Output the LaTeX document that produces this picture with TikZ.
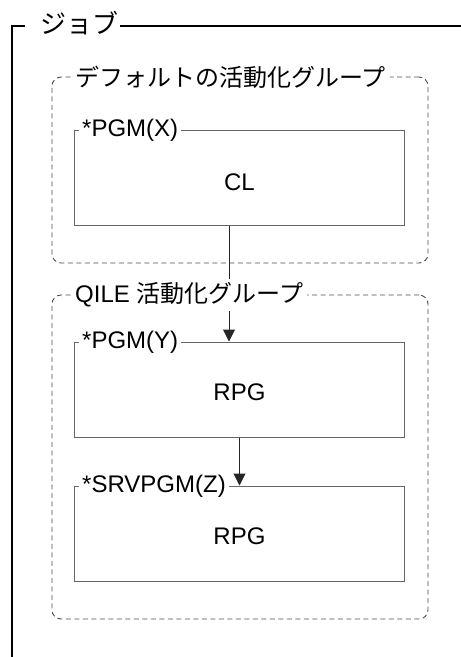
\documentclass[tikz,border=0pt]{standalone}
\usepackage{fontspec}
\setmainfont{Liberation Sans}
\newfontfamily\jp{Noto Sans CJK JP}
\usetikzlibrary{arrows.meta}
\begin{document}
\begin{tikzpicture}[x=1pt,y=-1pt,
  font=\fontsize{24}{28}\selectfont,
  grp/.style={draw=black!70, dash pattern=on 5pt off 3.5pt, line width=0.9pt, rounded corners=9pt, minimum width=376pt, inner sep=0pt},
  pbox/.style={draw=black!60, line width=1pt, minimum width=330pt, minimum height=95pt, inner sep=0pt},
  lbl/.style={fill=white, inner sep=3pt, anchor=west},
  arr/.style={draw=black!85, line width=1pt, -{Triangle[width=12pt,length=12pt]}},
  frame/.style={draw=black, line width=2pt},
]
\useasboundingbox (0,0) rectangle (461,657);
% job frame
\node[lbl, inner sep=2pt, font=\fontsize{26}{30}\selectfont] (job) at (38,23) {\jp ジョブ};
\coordinate (jobtl) at (12,26);
\coordinate (jobbl) at (12,660);
\coordinate (jobtr) at (462,26);
\coordinate (jobtick) at (25,26);
\draw[frame] (jobbl) -- (jobtl) -- (jobtick);
\draw[draw=black, line width=1.6pt] (job.east |- jobtr) -- (jobtr);
% groups
\node[grp, minimum height=186pt] (dflt) at (240,170) {};
\node[grp, minimum height=324pt] (qile) at (240,457) {};
% program boxes
\node[pbox] (pgmx) at (239.5,177.5) {};
\node[pbox] (pgmy) at (239.5,389.5) {};
\node[pbox] (srv) at (239.5,533.5) {};
\node (cl) at (239.5,182) {CL};
\node (rpg1) at (239.5,392) {RPG};
\node (rpg2) at (239.5,536) {RPG};
% connectors
\draw[arr] ([xshift=-10.5pt]pgmx.south) -- ([xshift=-10.5pt]pgmy.north);
\draw[arr] (pgmy.south) -- (srv.north);
% labels
\node[lbl, inner sep=4pt] (dlbl) at (71,77) {\jp デフォルトの活動化グループ};
\node[lbl, inner sep=4pt] (qlbl) at (71,295) {QILE {\jp 活動化グループ}};
\node[lbl] (xlbl) at (79,130) {*PGM(X)};
\node[lbl] (ylbl) at (79,342) {*PGM(Y)};
\node[lbl] (zlbl) at (79,486) {*SRVPGM(Z)};
\end{tikzpicture}
\end{document}
